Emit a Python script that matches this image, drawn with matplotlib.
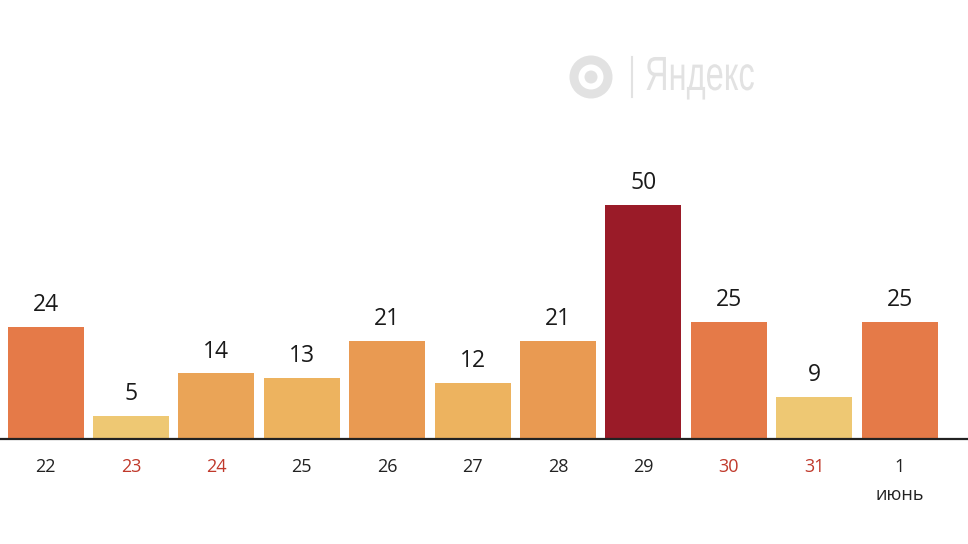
import matplotlib
matplotlib.use("Agg")
import matplotlib.pyplot as plt
from matplotlib.patches import Circle, PathPatch
from matplotlib.lines import Line2D
from matplotlib.textpath import TextPath
from matplotlib.font_manager import FontProperties
from matplotlib.transforms import Affine2D

categories = ["22", "23", "24", "25", "26", "27", "28", "29", "30", "31", "1"]
values = [24, 5, 14, 13, 21, 12, 21, 50, 25, 9, 25]
bar_colors = ["#E57A48", "#EEC873", "#EAA457", "#EDB35F", "#E99A52", "#EDB35F",
              "#E99A52", "#9A1B28", "#E57A48", "#EEC873", "#E57A48"]
tick_colors = ["#222222", "#C0392B", "#C0392B", "#222222", "#222222", "#222222",
               "#222222", "#222222", "#C0392B", "#C0392B", "#222222"]
month_label = "июнь"

plt.rcParams['font.family'] = ['Open Sans', 'DejaVu Sans']

fig = plt.figure(figsize=(9.68, 5.44), dpi=100)
ax = fig.add_axes([0, 0.193, 1, 0.807])
x = list(range(len(values)))
ax.bar(x, values, width=0.89, color=bar_colors, zorder=2)
ax.set_xlim(-0.533, 10.80)
ax.set_ylim(0, 93.8)
for s in ["top", "right", "left"]:
    ax.spines[s].set_visible(False)
ax.spines["bottom"].set_linewidth(1.6)
ax.spines["bottom"].set_color("#222222")
ax.set_yticks([])
ax.set_xticks(x)
ax.set_xticklabels(categories, fontsize=13)
ax.tick_params(axis='x', length=0, pad=14)
for lbl, c in zip(ax.get_xticklabels(), tick_colors):
    lbl.set_color(c)

for xi, v in zip(x, values):
    ax.annotate(str(v), (xi, v), xytext=(0, 7), textcoords="offset points",
                ha="center", va="bottom", fontsize=16.5, color="#1a1a1a")

ax.annotate(month_label, (x[-1], 0), xytext=(0, -40), textcoords="offset points",
            ha="center", va="center", fontsize=13, color="#222222",
            annotation_clip=False)

# watermark (positions in inches, origin bottom-left)
H = 5.44
cx, cy = 5.91, H - 0.77
wm = "#E2E2E2"
for r, col in [(0.215, wm), (0.125, "white"), (0.065, wm)]:
    fig.add_artist(Circle((cx, cy), r, transform=fig.dpi_scale_trans,
                          facecolor=col, edgecolor="none"))
fig.add_artist(Line2D([6.32, 6.32], [H - 0.97, H - 0.57], transform=fig.dpi_scale_trans,
                      color=wm, linewidth=1.5))
tp = TextPath((0, 0), "Яндекс", size=48, prop=FontProperties(family="Liberation Sans"))
tr = Affine2D().scale(0.68 / 100, 1 / 100).translate(6.45, H - 0.90) + fig.dpi_scale_trans
fig.add_artist(PathPatch(tp, transform=tr, facecolor=wm, edgecolor="none"))

fig.savefig("out.png", dpi=100, facecolor="white")
